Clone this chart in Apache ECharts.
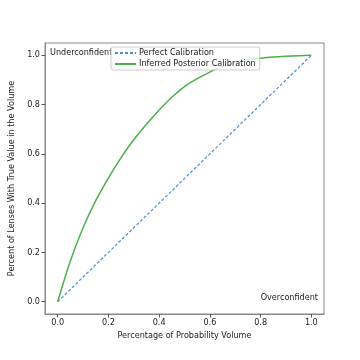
<!DOCTYPE html>
<html>
<head>
<meta charset="utf-8">
<script src="https://cdn.jsdelivr.net/npm/echarts@6/dist/echarts.min.js"></script>
<style>
  html, body { margin: 0; padding: 0; background: #fff; }
  #chart { width: 360px; height: 360px; }
</style>
</head>
<body>
<div id="chart"></div>
<script>
// probability volume (x) for both curves
const volume = [0, 0.05, 0.1, 0.15, 0.2, 0.25, 0.3, 0.35, 0.4, 0.45, 0.5,
                0.55, 0.6, 0.65, 0.7, 0.75, 0.8, 0.85, 0.9, 0.95, 1.0];
// fraction of lenses with true value inside the volume
const inferred = [0, 0.165, 0.3, 0.41, 0.502, 0.585, 0.657, 0.72, 0.778, 0.83, 0.873,
                  0.905, 0.932, 0.955, 0.97, 0.981, 0.988, 0.993, 0.996, 0.998, 1.0];
const perfect = [[0, 0], [1, 1]];
const tickValues = [0, 0.2, 0.4, 0.6, 0.8, 1.0];

const font = 'DejaVu Sans';
const txt = '#222';
const fs = 8.1;

const chart = echarts.init(document.getElementById('chart'), null, { renderer: 'canvas' });

function axisCommon(name, gap) {
  return {
    type: 'value',
    min: -0.05,
    max: 1.05,
    name: name,
    nameLocation: 'middle',
    nameGap: gap,
    nameTextStyle: { fontFamily: font, fontSize: fs, color: txt },
    axisLine: { show: true, onZero: false, lineStyle: { color: '#888', width: 1 } },
    axisTick: { show: true, inside: false, length: 3.5, customValues: tickValues,
                lineStyle: { color: '#555' } },
    axisLabel: { show: true, customValues: tickValues, fontFamily: font, fontSize: fs,
                 color: txt, margin: 5, formatter: v => v.toFixed(1) },
    splitLine: { show: false }
  };
}

const option = {
  animation: false,
  backgroundColor: '#fff',
  grid: {
    left: 45, right: 36, top: 43, bottom: 46,
    show: true, borderColor: '#888', borderWidth: 1, backgroundColor: 'transparent'
  },
  xAxis: axisCommon('Percentage of Probability Volume', 14),
  yAxis: axisCommon('Percent of Lenses With True Value in the Volume', 21),
  legend: {
    orient: 'vertical',
    left: 111, top: 47,
    itemWidth: 21, itemHeight: 8, itemGap: 3,
    padding: [2, 4, 2, 3],
    backgroundColor: 'rgba(255,255,255,0.8)',
    borderColor: '#ccc', borderWidth: 1, borderRadius: 2,
    itemStyle: { opacity: 0 },
    textStyle: { fontFamily: font, fontSize: fs, color: txt, padding: [0, 0, 0, -2] },
    data: ['Perfect Calibration', 'Inferred Posterior Calibration']
  },
  graphic: [
    { type: 'text', left: 50, top: 49,
      style: { text: 'Underconfident', font: fs + 'px "DejaVu Sans"', fill: txt } },
    { type: 'text', right: 42, top: 294,
      style: { text: 'Overconfident', font: fs + 'px "DejaVu Sans"', fill: txt } }
  ],
  series: [
    {
      name: 'Perfect Calibration',
      type: 'line',
      symbol: 'none',
      data: perfect,
      lineStyle: { color: '#4a8fd0', width: 1.2, type: [3, 2] },
      itemStyle: { color: '#4a8fd0' }
    },
    {
      name: 'Inferred Posterior Calibration',
      type: 'line',
      symbol: 'none',
      smooth: 0.3,
      data: volume.map((v, i) => [v, inferred[i]]),
      lineStyle: { color: '#4caf4c', width: 1.5 },
      itemStyle: { color: '#4caf4c' }
    }
  ]
};

chart.setOption(option);
</script>
</body>
</html>
